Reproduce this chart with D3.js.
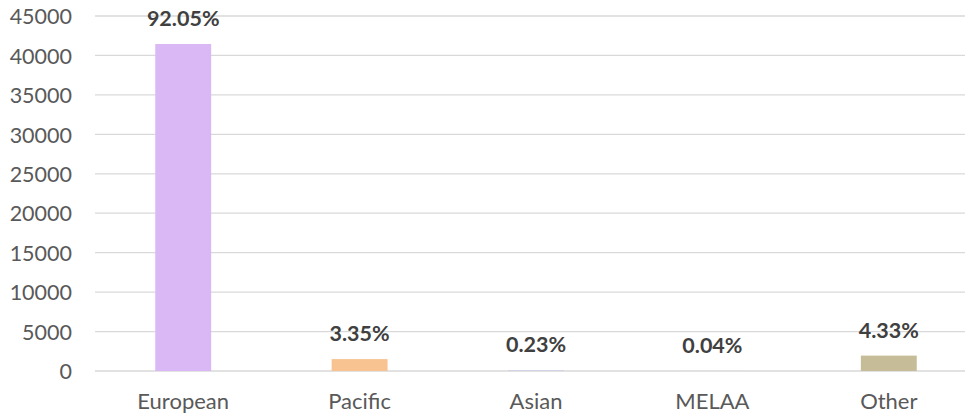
<!DOCTYPE html>
<html>
<head>
<meta charset="utf-8">
<script src="https://cdn.jsdelivr.net/npm/d3@7"></script>
<style>
  body { margin: 0; background: #ffffff; }
</style>
</head>
<body>
<div class="grafico"></div>
<script>
var categorias = ["European", "Pacific", "Asian", "MELAA", "Other"];
var valores = [41450, 1510, 104, 18, 1950];
var etiquetas = ["92.05%", "3.35%", "0.23%", "0.04%", "4.33%"];
var colores = ["#d9b8f5", "#f8c291", "#cfd0e6", "#d8d8d8", "#c6bd98"];
var ticksY = [0, 5000, 10000, 15000, 20000, 25000, 30000, 35000, 40000, 45000];

var contenedor = d3
  .select('.grafico')
  .append('svg')
  .attr('width', 965)
  .attr('height', 415);

const yScale = d3.scaleLinear()
  .domain([0, 45000])
  .range([371, 16]);

const xScale = d3.scaleBand()
  .domain(categorias)
  .range([95, 977])
  .paddingInner(0.683)
  .paddingOuter(0.3415);

// lineas de la rejilla
contenedor
  .append('g')
  .selectAll('line')
  .data(ticksY)
  .enter()
  .append('line')
  .attr('x1', 95)
  .attr('x2', 965)
  .attr('y1', d => yScale(d))
  .attr('y2', d => yScale(d))
  .attr('stroke', '#d9d9d9')
  .attr('stroke-width', 1.3);

const yAxis = d3.axisLeft(yScale)
  .tickValues(ticksY)
  .tickFormat(d3.format('d'))
  .tickSize(0)
  .tickPadding(0);

contenedor
  .append('g')
  .attr('transform', 'translate(72, 0)')
  .call(yAxis)
  .call(g => g.select('.domain').remove())
  .selectAll('text')
  .attr('fill', '#595959')
  .attr('font-family', 'Lato')
  .attr('font-size', 21.5)
  .attr('dy', '0.36em');

const xAxis = d3.axisBottom(xScale).tickSize(0).tickPadding(0);

contenedor
  .append('g')
  .attr('transform', 'translate(0, 371)')
  .call(xAxis)
  .call(g => g.select('.domain').remove())
  .selectAll('text')
  .attr('fill', '#595959')
  .attr('font-family', 'Lato')
  .attr('font-size', 22)
  .attr('dy', 0)
  .attr('y', 38);

contenedor
  .append('g')
  .selectAll('rect')
  .data(valores)
  .enter()
  .append('rect')
  .attr('x', (d, i) => xScale(categorias[i]))
  .attr('width', xScale.bandwidth())
  .attr('y', d => yScale(d))
  .attr('height', d => yScale(0) - yScale(d))
  .attr('fill', (d, i) => colores[i]);

contenedor
  .append('g')
  .selectAll('text')
  .data(valores)
  .enter()
  .append('text')
  .attr('x', (d, i) => xScale(categorias[i]) + xScale.bandwidth() / 2)
  .attr('y', d => yScale(d) - 18)
  .attr('text-anchor', 'middle')
  .attr('font-family', 'Lato')
  .attr('font-weight', 'bold')
  .attr('font-size', 21.5)
  .attr('fill', '#404040')
  .text((d, i) => etiquetas[i]);
</script>
</body>
</html>
